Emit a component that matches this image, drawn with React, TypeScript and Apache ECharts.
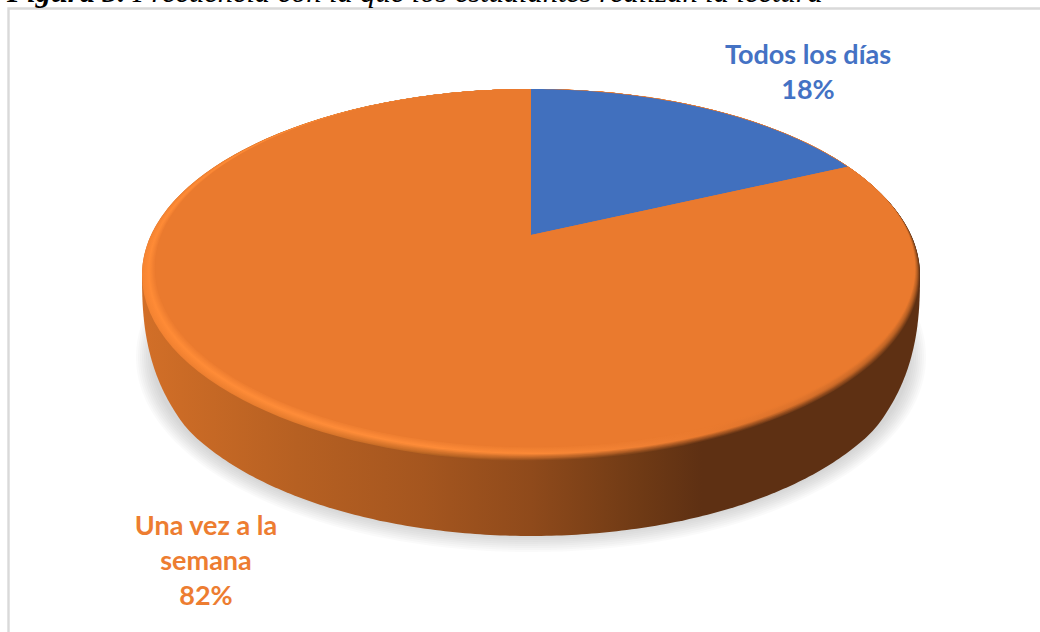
import React, { useEffect, useRef } from "react";
import * as echarts from "echarts";

const categories = ["Todos los días", "Una vez a la\nsemana"];
const values = [18, 82];
const sliceColors = ["#4170be", "#ea7a2e"];
const labelColors = ["#4472c4", "#ed7d31"];
const captionBold = "Figura 3.";
const captionRest = " Frecuencia con la que los estudiantes realizan la lectura";

const W = 1040;
const H = 632;
// Perspective of the disc's top face
const APEX_X = 531;
const TOP_Y = 89;
const APEX_Y = 235;
const FACE_BOTTOM_Y = 447;
const FACE_LEFT_R = 376;
const FACE_RIGHT_R = 384;

const c = (2 * APEX_Y - FACE_BOTTOM_Y - TOP_Y) / (FACE_BOTTOM_Y - TOP_Y);
const a = FACE_BOTTOM_Y * (1 + c) - APEX_Y;
const kScale = Math.sqrt(1 - c * c);

function project(deg: number): number[] {
  const t = (deg * Math.PI) / 180;
  const u = Math.sin(t);
  const v = -Math.cos(t);
  const d = 1 + c * v;
  const k = (u >= 0 ? FACE_RIGHT_R : FACE_LEFT_R) * kScale;
  return [APEX_X + (k * u) / d, (a * v + APEX_Y) / d];
}

const total = values.reduce((s, x) => s + x, 0);

function slicePoints(from: number, to: number): number[][] {
  const pts: number[][] = [[APEX_X, APEX_Y]];
  const n = Math.max(8, Math.ceil(to - from));
  for (let i = 0; i <= n; i++) pts.push(project(from + ((to - from) * i) / n));
  return pts;
}

type Ell = { cx: number; cy: number; rx: number; ry: number };
const outerTop: Ell = { cx: 531, cy: 275, rx: 389, ry: 186 };
const innerTop: Ell = { cx: 535, cy: 268, rx: 380, ry: 179 };
const bottomE: Ell = { cx: 531, cy: 352, rx: 378, ry: 184 };
const shadowE: Ell = { cx: 531, cy: 357, rx: 386, ry: 186 };

function arcPts(e: Ell, from: number, to: number, n = 120): number[][] {
  const pts: number[][] = [];
  for (let i = 0; i <= n; i++) {
    const t = ((from + ((to - from) * i) / n) * Math.PI) / 180;
    pts.push([e.cx + e.rx * Math.cos(t), e.cy + e.ry * Math.sin(t)]);
  }
  return pts;
}

// lower outline of the wall, rounded where it leaves the top face
function wallY(w: number): number {
  const n = Math.min(1, w / outerTop.rx);
  const sup = outerTop.cy + 261 * Math.pow(1 - Math.pow(n, 2.5), 0.4);
  const m = Math.min(1, w / bottomE.rx);
  const ell = bottomE.cy + bottomE.ry * Math.sqrt(1 - m * m);
  const s = Math.min(1, Math.max(0, (w - 325) / 35));
  const k = s * s * (3 - 2 * s);
  return ell + (sup - ell) * k;
}

function wallOutline(): number[][] {
  const pts: number[][] = [];
  const N = 240;
  for (let i = 0; i <= N; i++) {
    const w = outerTop.rx * Math.cos((Math.PI * i) / N);
    pts.push([outerTop.cx + w, wallY(Math.abs(w))]);
  }
  return pts;
}

const gradOffsets = [0, 0.05, 0.2, 0.36, 0.5, 0.64, 0.72, 0.85, 1];
const wallStops = ["#d26f28", "#cb6b26", "#b66022", "#a5561f", "#8f4a1b", "#6f3a15", "#5e3013", "#5e3013", "#5e3013"];
const edgeStops = ["#f58432", "#f08030", "#e27a2c", "#b86422", "#8f4a1b", "#6f3a15", "#5e3013", "#5e3013", "#5e3013"];
const glowStops = ["#ff8b36", "#ff8b36", "#ff8c38", "#ff8c38", "#fb8936", "#f08033", "#ea7a2e", "#d8702a", "#b05c22"];

function hex(s: string): number[] {
  return [1, 3, 5].map((i) => parseInt(s.slice(i, i + 2), 16));
}
function mix(p: string, q: string, t: number): string {
  const A = hex(p);
  const B = hex(q);
  return `rgb(${A.map((v, i) => Math.round(v + (B[i] - v) * t)).join(",")})`;
}
function gradient(colorAt: (i: number) => string) {
  return new echarts.graphic.LinearGradient(
    142, 0, 920, 0,
    gradOffsets.map((offset, i) => ({ offset, color: colorAt(i) })),
    true
  );
}

function renderBase() {
  const children: any[] = [];
  // soft ground shadow
  const steps = 9;
  for (let i = 0; i < steps; i++) {
    const g = 9 - i * 2;
    children.push({
      type: "ellipse",
      shape: { cx: shadowE.cx, cy: shadowE.cy, rx: shadowE.rx + g, ry: shadowE.ry + g },
      style: { fill: "rgba(120,120,120,0.038)" },
    });
  }
  // side wall
  const wall = [...arcPts(outerTop, 180, 360), ...wallOutline()];
  children.push({ type: "polygon", shape: { points: wall }, style: { fill: gradient((i) => wallStops[i]) } });
  // bevel rim: wall colour -> highlight -> face colour
  const layers = 16;
  const crest = 0.5;
  for (let l = 0; l <= layers; l++) {
    const t = l / layers;
    const fill = gradient((i) =>
      t < crest
        ? mix(edgeStops[i], glowStops[i], t / crest)
        : mix(glowStops[i], sliceColors[1], (t - crest) / (1 - crest))
    );
    children.push({
      type: "ellipse",
      shape: {
        cx: outerTop.cx + (innerTop.cx - outerTop.cx) * t,
        cy: outerTop.cy + (innerTop.cy - outerTop.cy) * t,
        rx: outerTop.rx + (innerTop.rx - outerTop.rx) * t,
        ry: outerTop.ry + (innerTop.ry - outerTop.ry) * t,
      },
      style: { fill },
    });
  }
  return { type: "group", children };
}

function renderSlice(params: any, api: any) {
  const i = params.dataIndex;
  const before = values.slice(0, i).reduce((s, x) => s + x, 0);
  const from = (before / total) * 360;
  const to = ((before + api.value(0)) / total) * 360;
  return {
    type: "polygon",
    shape: { points: slicePoints(from, to) },
    style: { fill: sliceColors[i] },
  };
}

const labelAnchors = [
  [808, 71],
  [206, 559],
];

function renderLabel(params: any, api: any) {
  const i = params.dataIndex;
  const pct = Math.round((api.value(0) / total) * 100);
  return {
    type: "text",
    x: labelAnchors[i][0],
    y: labelAnchors[i][1],
    style: {
      text: `${categories[i]}\n${pct}%`,
      fill: labelColors[i],
      font: "700 27px Lato",
      lineHeight: 35,
      align: "center",
      verticalAlign: "middle",
    },
  };
}

export default function App() {
  const ref = useRef<HTMLDivElement>(null);
  useEffect(() => {
    document.body.style.margin = "0";
    document.body.style.overflow = "hidden";
    const chart = echarts.init(ref.current!, undefined, { renderer: "svg" });
    chart.setOption({
      animation: false,
      backgroundColor: "#ffffff",
      graphic: [
        {
          type: "rect",
          z: 0,
          shape: { x: 8.5, y: 8.5, width: W + 20, height: H + 20 },
          style: { fill: "#ffffff", stroke: "#d9d9d9", lineWidth: 2.4 },
        },
        {
          type: "text",
          z: 1,
          x: 7,
          y: -23,
          style: {
            text: `{b|${captionBold}}{i|${captionRest}}`,
            rich: {
              b: { font: "italic 700 30.4px 'Liberation Serif'", fill: "#000000" },
              i: { font: "italic 400 30.4px 'Liberation Serif'", fill: "#000000" },
            },
          },
        },
      ],
      series: [
        { type: "custom", coordinateSystem: "none", silent: true, z: 2, data: [0], renderItem: renderBase },
        { type: "custom", coordinateSystem: "none", silent: true, z: 3, data: values, renderItem: renderSlice },
        { type: "custom", coordinateSystem: "none", silent: true, z: 4, data: values, renderItem: renderLabel },
      ],
    });
    return () => chart.dispose();
  }, []);
  return <div ref={ref} style={{ position: "absolute", left: 0, top: 0, width: W, height: H }} />;
}
